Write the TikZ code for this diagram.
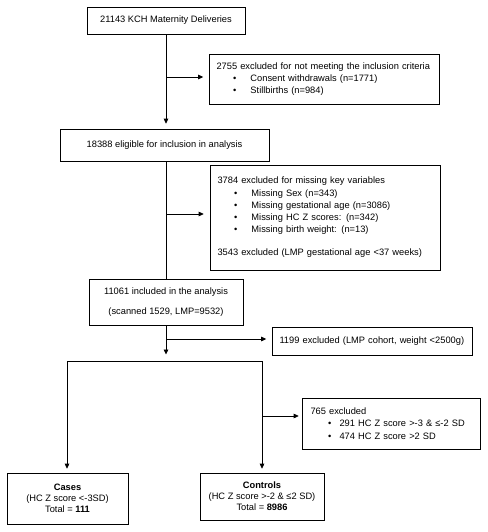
\documentclass[tikz,border=0pt]{standalone}
\usepackage{fontspec}
\setmainfont{Liberation Sans}
\usetikzlibrary{arrows.meta}
\newcommand\myitem[3]{\\\hspace*{#1}\makebox[#2][l]{\textbullet}#3}
\begin{document}
\begin{tikzpicture}[x=1pt,y=-1pt,
  every node/.style={font=\fontsize{9.3}{12.2}\selectfont},
  cbox/.style={draw, line width=0.7pt, align=center, inner sep=0pt},
  lbox/.style={draw, line width=0.7pt, align=left, inner xsep=7.5pt, inner ysep=0pt},
  conn/.style={line width=0.7pt},
  arr/.style={line width=0.7pt, -{Triangle[length=5pt,width=4.6pt]}}
]
\useasboundingbox (0,0) rectangle (487,532);
% boxes
\node[cbox, minimum width=158pt, minimum height=27pt] (b1) at (166,20.5) {21143 KCH Maternity Deliveries};
\node[lbox, text width=215pt, minimum height=50pt] (b2) at (324,79) {2755 excluded for not meeting the inclusion criteria\myitem{16.5pt}{17.5pt}{Consent withdrawals (n=1771)}\myitem{16.5pt}{17.5pt}{Stillbirths (n=984)}};
\node[cbox, minimum width=209pt, minimum height=32pt] (b3) at (164.5,145) {18388 eligible for inclusion in analysis};
\node[lbox, text width=215pt, minimum height=105pt] (b4) at (325,217.5) {3784 excluded for missing key variables\myitem{16.5pt}{17.5pt}{Missing Sex (n=343)}\myitem{16.5pt}{17.5pt}{Missing gestational age (n=3086)}\myitem{16.5pt}{17.5pt}{Missing HC Z scores: (n=342)}\myitem{16.5pt}{17.5pt}{Missing birth weight: (n=13)}\\[11pt]3543 excluded (LMP gestational age <37 weeks)};
\node[cbox, minimum width=154pt, minimum height=46pt] (b5) at (166,302) {11061 included in the analysis\\[8pt](scanned 1529, LMP=9532)};
\node[lbox, text width=185pt, minimum height=28pt] (b6) at (372,341) {1199 excluded (LMP cohort, weight <2500g)};
\node[lbox, text width=161pt, minimum height=51pt, inner xsep=8.5pt] (b7) at (391,423.5) {765 excluded\myitem{17.5pt}{11.5pt}{291 HC Z score >-3 \& ≤-2 SD}\myitem{17.5pt}{11.5pt}{474 HC Z score >2 SD}};
\node[cbox, minimum width=121pt, minimum height=51pt, font=\fontsize{9.3}{11}\selectfont] (cases) at (67.5,498.5) {\textbf{Cases}\\(HC Z score <-3SD)\\Total = \textbf{111}};
\node[cbox, minimum width=124pt, minimum height=47pt, font=\fontsize{9.3}{11}\selectfont] (controls) at (262,496.5) {\textbf{Controls}\\(HC Z score >-2 \& ≤2 SD)\\Total = \textbf{8986}};
% junction coordinates
\coordinate (j1) at (166,77);
\coordinate (j2) at (166,214);
\coordinate (j3) at (166,339);
\coordinate (split) at (166,361);
\coordinate (sl) at (67,361);
\coordinate (sr) at (262,361);
\coordinate (j4) at (262,416);
% connectors
\draw[arr, shorten >=5pt] (b1.south -| j1) -- (j1 |- b3.north);
\draw[arr, shorten >=5.5pt] (j1) -- (j1 -| b2.west);
\draw[conn] (j2 |- b3.south) -- (j2 |- b5.north);
\draw[arr, shorten >=6pt] (j2) -- (j2 -| b4.west);
\draw[arr, shorten >=6.5pt] (j3 |- b5.south) -- (split);
\draw[arr, shorten >=5.5pt] (j3) -- (j3 -| b6.west);
\draw[conn] (sl) -- (sr);
\draw[arr, shorten >=4pt] (sl) -- (sl |- cases.north);
\draw[arr, shorten >=4pt] (sr) -- (sr |- controls.north);
\draw[arr, shorten >=3pt] (j4) -- (j4 -| b7.west);
\end{tikzpicture}
\end{document}
